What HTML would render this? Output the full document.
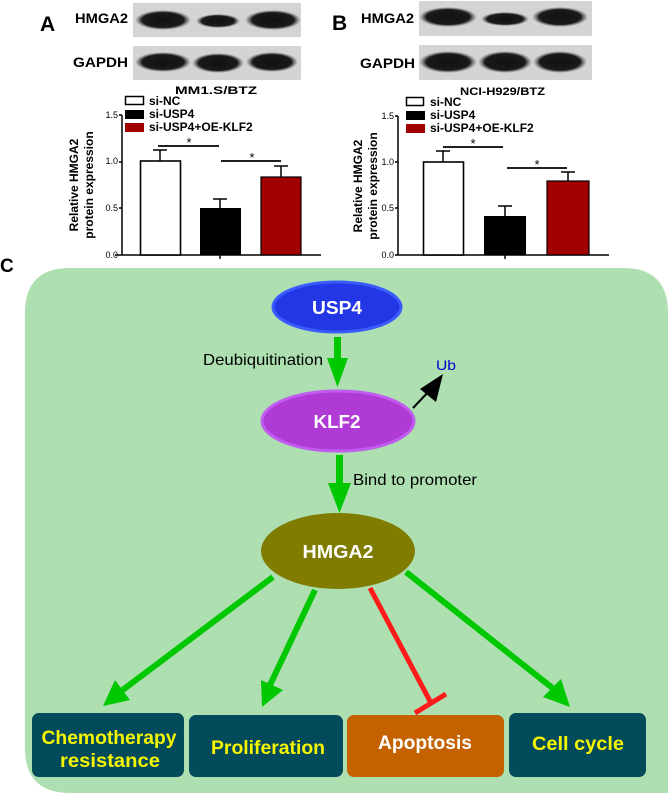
<!DOCTYPE html>
<html><head><meta charset="utf-8"><style>
html,body{margin:0;padding:0;background:#fff;}
svg{display:block;font-family:"Liberation Sans",Arial,sans-serif;}
</style></head><body>
<svg width="669" height="796" viewBox="0 0 669 796" xmlns="http://www.w3.org/2000/svg">
<defs>
<radialGradient id="band" cx="50%" cy="50%" r="50%"><stop offset="0" stop-color="#111"/><stop offset="0.75" stop-color="#1a1a1a"/><stop offset="1" stop-color="#555" stop-opacity="0"/></radialGradient>
</defs>
<g lengthAdjust="spacingAndGlyphs">
<!-- Panel A -->
<text x="40" y="31" font-size="21" font-weight="bold">A</text>
<text x="75" y="23" font-size="14" font-weight="bold" textLength="53" lengthAdjust="spacingAndGlyphs">HMGA2</text>
<text x="73" y="67" font-size="14" font-weight="bold" textLength="55" lengthAdjust="spacingAndGlyphs">GAPDH</text>
<rect x="133" y="3" width="168" height="34" fill="#d4d4d4"/>
<ellipse cx="163" cy="20" rx="28" ry="10" fill="url(#band)"/>
<ellipse cx="218" cy="21" rx="22" ry="7" fill="url(#band)"/>
<ellipse cx="273" cy="20" rx="28" ry="10" fill="url(#band)"/>
<rect x="133" y="46" width="168" height="34" fill="#d4d4d4"/>
<ellipse cx="163" cy="62" rx="28" ry="10" fill="url(#band)"/>
<ellipse cx="218" cy="63" rx="26" ry="10" fill="url(#band)"/>
<ellipse cx="272" cy="62" rx="26" ry="10" fill="url(#band)"/>
<text x="175" y="94" font-size="11" font-weight="bold" textLength="82" lengthAdjust="spacingAndGlyphs">MM1.S/BTZ</text>
<rect x="125.5" y="96.5" width="18" height="8" fill="#fff" stroke="#000" stroke-width="1.5"/>
<rect x="125" y="110" width="19" height="9" fill="#000"/>
<rect x="125" y="123" width="19" height="9" fill="#a00000"/>
<text x="149" y="105" font-size="12" font-weight="bold">si-NC</text>
<text x="149" y="118" font-size="12" font-weight="bold">si-USP4</text>
<text x="149" y="131" font-size="12" font-weight="bold">si-USP4+OE-KLF2</text>
<g font-size="9" text-anchor="end">
<text x="118" y="118">1.5</text><text x="118" y="164">1.0</text><text x="118" y="211">0.5</text><text x="118" y="258">0.0</text>
</g>
<g stroke="#000" stroke-width="1.5" fill="none">
<path d="M122 115V255M119 115H122M119 162H122M119 208H122M119 255H122M115 255H321M220 255V259"/>
</g>
<rect x="140.5" y="161" width="40" height="94" fill="#fff" stroke="#000" stroke-width="1.6"/>
<rect x="200" y="208" width="41" height="47" fill="#000"/>
<rect x="261" y="177" width="40" height="78" fill="#a00000" stroke="#000" stroke-width="1.2"/>
<g stroke="#000" stroke-width="1.5"><path d="M160 161V150M153 150H167M220 208V199M213 199H227M281 177V166M274 166H288"/>
<path d="M158 146H219M221 161H281" stroke-width="1.8"/></g>
<text x="189" y="147" font-size="13" text-anchor="middle">*</text>
<text x="252" y="162" font-size="13" text-anchor="middle">*</text>
<g font-size="12" font-weight="bold" text-anchor="middle">
<text transform="translate(78,185) rotate(-90)">Relative HMGA2</text>
<text transform="translate(93,185) rotate(-90)">protein expression</text>
</g>
<!-- Panel B -->
<text x="332" y="30" font-size="21" font-weight="bold">B</text>
<text x="361" y="23" font-size="14" font-weight="bold" textLength="53" lengthAdjust="spacingAndGlyphs">HMGA2</text>
<text x="360" y="68" font-size="14" font-weight="bold" textLength="55" lengthAdjust="spacingAndGlyphs">GAPDH</text>
<rect x="419" y="1" width="173" height="35" fill="#d4d4d4"/>
<ellipse cx="448" cy="17" rx="29" ry="10" fill="url(#band)"/>
<ellipse cx="505" cy="19" rx="24" ry="7" fill="url(#band)"/>
<ellipse cx="560" cy="17" rx="28" ry="10" fill="url(#band)"/>
<rect x="419" y="45" width="173" height="35" fill="#d4d4d4"/>
<ellipse cx="448" cy="62" rx="29" ry="11" fill="url(#band)"/>
<ellipse cx="505" cy="62" rx="27" ry="11" fill="url(#band)"/>
<ellipse cx="560" cy="62" rx="27" ry="11" fill="url(#band)"/>
<text x="460" y="95" font-size="11" font-weight="bold" textLength="85" lengthAdjust="spacingAndGlyphs">NCI-H929/BTZ</text>
<rect x="406.5" y="97.5" width="17" height="8" fill="#fff" stroke="#000" stroke-width="1.5"/>
<rect x="406" y="111" width="19" height="9" fill="#000"/>
<rect x="406" y="124" width="19" height="9" fill="#a00000"/>
<text x="430" y="106" font-size="12" font-weight="bold">si-NC</text>
<text x="430" y="119" font-size="12" font-weight="bold">si-USP4</text>
<text x="430" y="132" font-size="12" font-weight="bold">si-USP4+OE-KLF2</text>
<g font-size="9" text-anchor="end">
<text x="394" y="119">1.5</text><text x="394" y="165">1.0</text><text x="394" y="211">0.5</text><text x="394" y="258">0.0</text>
</g>
<g stroke="#000" stroke-width="1.5" fill="none">
<path d="M398 116V255M395 116H398M395 162H398M395 208H398M395 255H398M397 255H609M505 255V259"/>
</g>
<rect x="423.5" y="162" width="40" height="93" fill="#fff" stroke="#000" stroke-width="1.6"/>
<rect x="484" y="216" width="42" height="39" fill="#000"/>
<rect x="547" y="181" width="42" height="74" fill="#a00000" stroke="#000" stroke-width="1.2"/>
<g stroke="#000" stroke-width="1.5"><path d="M443 162V151M436 151H450M505 216V206M498 206H512M568 181V172M561 172H575"/>
<path d="M443 147H503M507 168H567" stroke-width="1.8"/></g>
<text x="473" y="148" font-size="13" text-anchor="middle">*</text>
<text x="537" y="169" font-size="13" text-anchor="middle">*</text>
<g font-size="12" font-weight="bold" text-anchor="middle">
<text transform="translate(362,186) rotate(-90)">Relative HMGA2</text>
<text transform="translate(377,186) rotate(-90)">protein expression</text>
</g>
<!-- Panel C -->
<text x="0" y="272" font-size="19" font-weight="bold">C</text>
<path d="M70 268H623Q668 268 668 313V793H70Q25 793 25 748V313Q25 268 70 268Z" fill="#addfb0"/>
<ellipse cx="337" cy="307" rx="64" ry="25" fill="#2437e6" stroke="#3a5cff" stroke-width="3"/>
<text x="337" y="314" font-size="18" font-weight="bold" fill="#fff" text-anchor="middle" textLength="50" lengthAdjust="spacingAndGlyphs">USP4</text>
<path d="M334 337H341V358H348L337.5 387L327 358H334Z" fill="#00c800"/>
<text x="203" y="365" font-size="16" textLength="120" lengthAdjust="spacingAndGlyphs">Deubiquitination</text>
<text x="436" y="370" font-size="14" fill="#0000cc" textLength="20" lengthAdjust="spacingAndGlyphs">Ub</text>
<line x1="413" y1="408" x2="432" y2="388" stroke="#000" stroke-width="2"/>
<path d="M443 374L436 402L420 389Z" fill="#000"/>
<ellipse cx="338" cy="421" rx="76" ry="30" fill="#b03ad6" stroke="#c05cf0" stroke-width="3"/>
<text x="337" y="428" font-size="18" font-weight="bold" fill="#fff" text-anchor="middle" textLength="47" lengthAdjust="spacingAndGlyphs">KLF2</text>
<path d="M336 455H343V483H351L339.5 513L328 483H336Z" fill="#00c800"/>
<text x="353" y="485" font-size="16" textLength="124" lengthAdjust="spacingAndGlyphs">Bind to promoter</text>
<ellipse cx="338" cy="551" rx="77" ry="38" fill="#807c00"/>
<text x="338" y="558" font-size="18" font-weight="bold" fill="#fff" text-anchor="middle" textLength="71" lengthAdjust="spacingAndGlyphs">HMGA2</text>
<g stroke="#00c800" stroke-width="6" fill="none">
<line x1="273" y1="577" x2="120" y2="692"/>
<line x1="315" y1="590" x2="270" y2="685"/>
<line x1="406" y1="572" x2="555" y2="690"/>
</g>
<path d="M103 706L115 680L130 700Z" fill="#00c800"/>
<path d="M262 707L261 680L283 690Z" fill="#00c800"/>
<path d="M570 707L543 697L561 679Z" fill="#00c800"/>
<line x1="370" y1="588" x2="431" y2="703" stroke="#ff1a1a" stroke-width="5"/>
<line x1="415" y1="713" x2="446" y2="694" stroke="#ff1a1a" stroke-width="5"/>
<rect x="32" y="713" width="152" height="64" rx="7" fill="#034a5a"/>
<rect x="189" y="715" width="154" height="62" rx="7" fill="#034a5a"/>
<rect x="347" y="715" width="157" height="62" rx="7" fill="#c46200"/>
<rect x="509" y="713" width="137" height="64" rx="7" fill="#034a5a"/>
<g font-size="19" font-weight="bold" fill="#f5f500" text-anchor="middle">
<text x="109" y="744" textLength="135" lengthAdjust="spacingAndGlyphs">Chemotherapy</text>
<text x="110" y="767" textLength="100" lengthAdjust="spacingAndGlyphs">resistance</text>
<text x="268" y="754" textLength="114" lengthAdjust="spacingAndGlyphs">Proliferation</text>
<text x="578" y="750" textLength="92" lengthAdjust="spacingAndGlyphs">Cell cycle</text>
</g>
<text x="425" y="749" font-size="19" font-weight="bold" fill="#fff" text-anchor="middle" textLength="94" lengthAdjust="spacingAndGlyphs">Apoptosis</text>
</g>
</svg>
</body></html>
